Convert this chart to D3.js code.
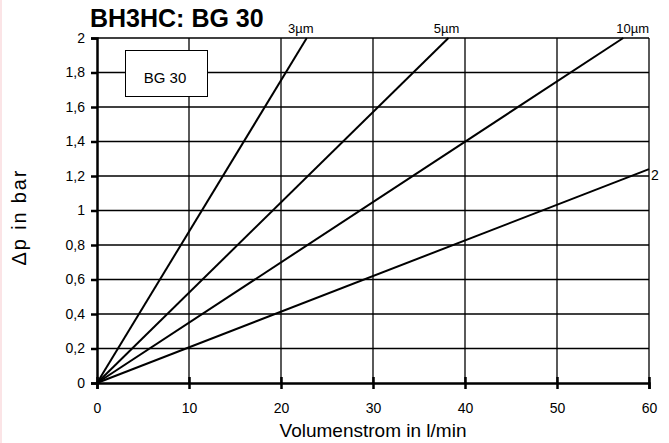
<!DOCTYPE html>
<html><head><meta charset="utf-8">
<script src="https://cdn.jsdelivr.net/npm/d3@7"></script>
<style>body{margin:0;background:#fff;} svg{display:block;font-family:"Liberation Sans",Arial,sans-serif;}</style>
</head><body>
<svg id="c" width="669" height="443"></svg>
<script>
const xTicks = [0,10,20,30,40,50,60];
const yTicks = [0,0.2,0.4,0.6,0.8,1,1.2,1.4,1.6,1.8,2];
const seriesNames = ["3µm","5µm","10µm","2"];
const seriesFlow = [[0,22.8],[0,38.2],[0,57.2],[0,60]];
const seriesDp = [[0,2],[0,2],[0,2],[0,1.24]];

const svg = d3.select("#c");
const m = {l:97, r:20, t:38, b:60};
const W = 669, H = 443;
const x = d3.scaleLinear().domain([0,60]).range([m.l, W-m.r]);
const y = d3.scaleLinear().domain([0,2]).range([H-m.b, m.t]);

svg.append("line").attr("x1",1).attr("x2",1).attr("y1",0).attr("y2",H).attr("stroke","#fbe4e6").attr("stroke-width",2);

const fmt = d => String(+d.toFixed(1)).replace(".",",");

// grid
svg.append("g").selectAll("line").data(xTicks.slice(1)).join("line")
  .attr("x1",d=>x(d)).attr("x2",d=>x(d)).attr("y1",y(0)).attr("y2",y(2))
  .attr("stroke","#000").attr("stroke-width",1.3);
svg.append("g").selectAll("line").data(yTicks.slice(1)).join("line")
  .attr("x1",x(0)).attr("x2",x(60)).attr("y1",d=>y(d)).attr("y2",d=>y(d))
  .attr("stroke","#000").attr("stroke-width",1.3);

// axes
const xa = svg.append("g").attr("transform",`translate(0,${y(0)})`)
  .call(d3.axisBottom(x).tickValues(xTicks).tickSize(6).tickPadding(14).tickFormat(d=>d));
const ya = svg.append("g").attr("transform",`translate(${x(0)},0)`)
  .call(d3.axisLeft(y).tickValues(yTicks).tickSize(6).tickPadding(6).tickFormat(fmt));
[xa,ya].forEach(a=>{
  a.select(".domain").attr("stroke-width",2.5).attr("stroke","#000");
  a.selectAll(".tick line").attr("stroke-width",2.5).attr("stroke","#000");
  a.selectAll("text").attr("font-size",14).attr("fill","#000").attr("font-family","Liberation Sans, Arial, sans-serif");
});
ya.selectAll(".tick line").attr("x2",-6).attr("x1",0);
xa.selectAll(".tick line").attr("y1",-6).attr("y2",6);

// series lines
const line = d3.line().x(d=>x(d[0])).y(d=>y(d[1]));
seriesNames.forEach((n,i)=>{
  const pts = seriesFlow[i].map((f,j)=>[f, seriesDp[i][j]]);
  svg.append("path").attr("d",line(pts)).attr("fill","none").attr("stroke","#000").attr("stroke-width",2);
});
// series labels
const labPos = [[x(seriesFlow[0][1]),"middle",-6,33],[x(seriesFlow[1][1]),"middle",-2,33],[x(60),"end",0,33]];
[0,1,2].forEach(i=>{
  svg.append("text").attr("x",labPos[i][0]+labPos[i][2]).attr("y",labPos[i][3])
    .attr("text-anchor",labPos[i][1]).attr("font-size",13).text(seriesNames[i]);
});
svg.append("text").attr("x",x(60)+2).attr("y",y(seriesDp[3][1])+11).attr("font-size",14).text(seriesNames[3]);

// legend box
svg.append("rect").attr("x",125.5).attr("y",50.5).attr("width",82).attr("height",46)
  .attr("fill","#fff").attr("stroke","#000").attr("stroke-width",1);
svg.append("text").attr("x",165).attr("y",83).attr("text-anchor","middle").attr("font-size",15).text("BG 30");

// title
svg.append("text").attr("x",90).attr("y",27).attr("font-size",25).attr("font-weight","bold").text("BH3HC: BG 30");

// axis titles
svg.append("text").attr("x",373).attr("y",437).attr("text-anchor","middle").attr("font-size",19).text("Volumenstrom in l/min");
svg.append("text").attr("transform",`translate(26,218) rotate(-90)`).attr("text-anchor","middle").attr("font-size",20)
  .attr("textLength",95).attr("lengthAdjust","spacing").text("Δp in bar");
</script>
</body></html>
